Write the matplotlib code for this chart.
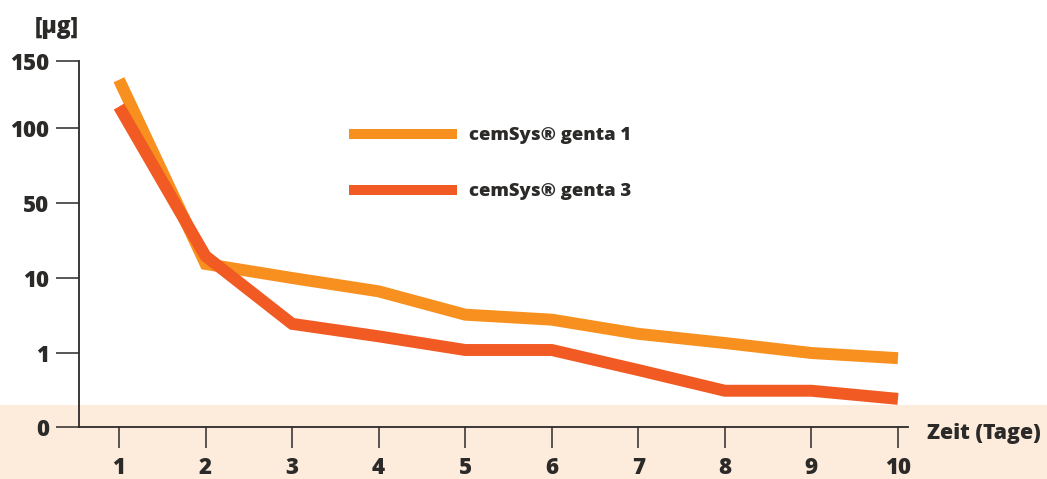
import numpy as np
import matplotlib
matplotlib.use('Agg')
import matplotlib.pyplot as plt
from matplotlib.patches import Rectangle

# Werte (µg) je Tag
days = np.arange(1, 11)
genta1 = [136, 17.5, 10.0, 8.4, 5.6, 5.0, 3.3, 2.2, 1.0, 0.93]
genta3 = [116, 21.7, 4.5, 3.0, 1.36, 1.36, 0.77, 0.49, 0.49, 0.38]
labels = ['cemSys® genta 1', 'cemSys® genta 3']

# nichtlineare Y-Achse: Teilstriche gleichmäßig verteilt
y_ticks = [0, 1, 10, 50, 100, 150]
y_pos = [0, 74, 149, 224, 299, 366]
band_level = 0.3

ORANGE = '#F7901E'
RED = '#F15A22'
BAND = '#FDEBDB'
DARK = '#2B2A29'
W = 800

plt.rcParams['font.family'] = ['Open Sans', 'DejaVu Sans']

fig = plt.figure(figsize=(10.47, 4.79), dpi=100)
ax = fig.add_axes([79 / 1047, 52 / 479, 829 / 1047, 366 / 479])
ax.set_facecolor('none')

ax.set_yscale('function', functions=(lambda v: np.interp(v, y_ticks, y_pos),
                                     lambda p: np.interp(p, y_pos, y_ticks)))

l1, = ax.plot(days, genta1, color=ORANGE, lw=8.6, solid_capstyle='butt',
              solid_joinstyle='miter', label=labels[0], zorder=3)
l2, = ax.plot(days, genta3, color=RED, lw=8.6, solid_capstyle='butt',
              solid_joinstyle='miter', label=labels[1], zorder=4)

ax.set_xlim(0.538, 10.116)
ax.set_ylim(0, 150)
ax.set_xticks(days)
ax.set_yticks(y_ticks)
ax.set_yticklabels([str(t) for t in y_ticks])
ax.minorticks_off()

for s in ['top', 'right']:
    ax.spines[s].set_visible(False)
for s in ['left', 'bottom']:
    ax.spines[s].set_color(DARK)
    ax.spines[s].set_linewidth(1.3)

ax.tick_params(axis='y', length=16.5, width=1.1, color=DARK, pad=5,
               labelsize=16, labelcolor=DARK)
ax.tick_params(axis='x', length=15, width=1.1, color=DARK, pad=6,
               labelsize=16, labelcolor=DARK)
for t in ax.get_xticklabels() + ax.get_yticklabels():
    t.set_fontweight(W)

leg = ax.legend(handles=[l1, l2], loc='upper left', bbox_to_anchor=(340 / 1047, 1 - 118 / 479),
                bbox_transform=fig.transFigure, frameon=False, borderpad=0,
                handlelength=5.85, handletextpad=0.62, labelspacing=2.12,
                prop={'size': 13.3, 'weight': W})
for h in leg.legend_handles:
    h.set_linewidth(7.2)
for t in leg.get_texts():
    t.set_color(DARK)

fig.text(927 / 1047, 1 - 433 / 479, 'Zeit (Tage)', fontsize=15.3, fontweight=W,
         color=DARK, va='center', ha='left')
fig.text(35 / 1047, 1 - 27 / 479, '[µg]', fontsize=16.5, fontweight=W,
         color=DARK, va='center', ha='left')

# hinterlegter Bereich unterhalb des Schwellenwerts
fig.canvas.draw()
y_band = ax.transData.transform((1, band_level))[1] / fig.bbox.height
fig.patches.append(Rectangle((0, 0), 1, y_band, transform=fig.transFigure,
                             facecolor=BAND, edgecolor='none', zorder=-1))

fig.savefig('out.png', dpi=100)
